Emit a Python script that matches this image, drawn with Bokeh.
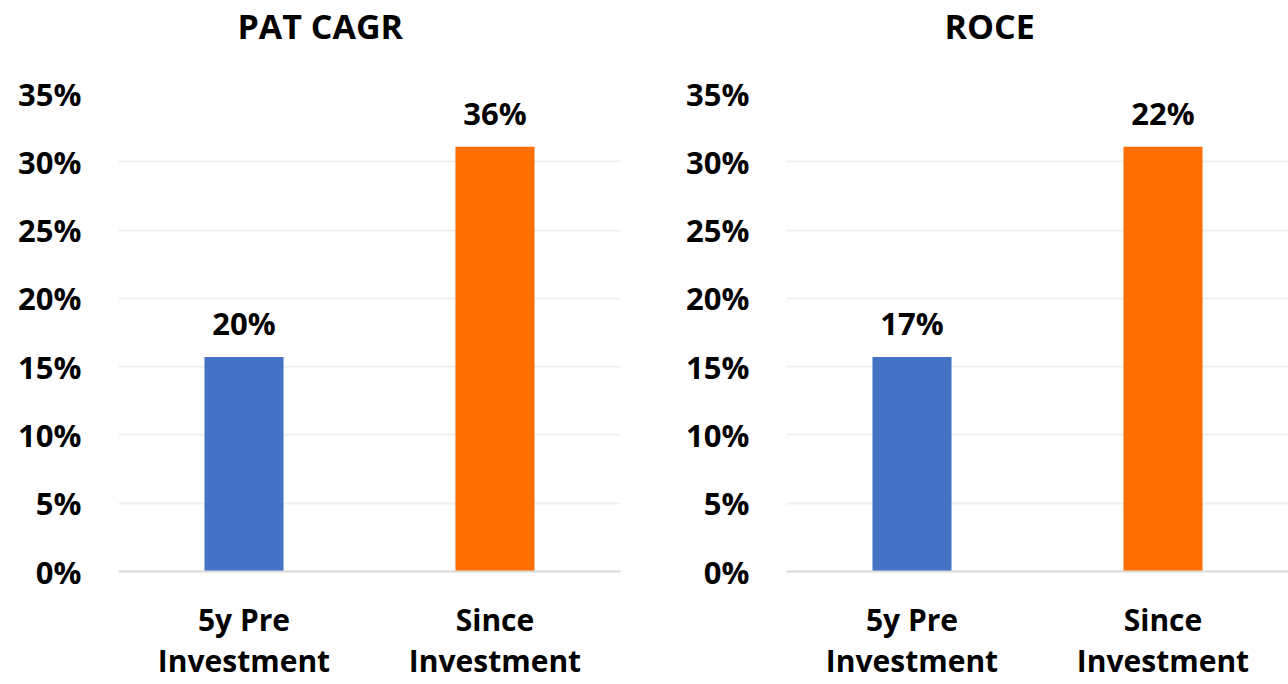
from bokeh.plotting import figure
from bokeh.layouts import row
from bokeh.models import ColumnDataSource, FixedTicker, Title
from bokeh.core.properties import value
from bokeh.embed import file_html
from bokeh.resources import INLINE

# ---- data ----
categories = ["5y Pre\nInvestment", "Since\nInvestment"]
bar_colors = ["#4472C4", "#FF7000"]

pat_title = "PAT CAGR"
pat_bar_values = [0.157, 0.311]
pat_labels = ["20%", "36%"]

roce_title = "ROCE"
roce_bar_values = [0.157, 0.311]
roce_labels = ["17%", "22%"]

y_ticks = [0.0, 0.05, 0.10, 0.15, 0.20, 0.25, 0.30, 0.35]
y_tick_labels = ["0%", "5%", "10%", "15%", "20%", "25%", "30%", "35%"]

FONT = "Open Sans"


def make_panel(title, vals, labels, width, border_left, border_right, title_offset):
    src = ColumnDataSource(dict(cat=categories, val=vals, lab=labels, color=bar_colors))
    p = figure(x_range=categories, y_range=(0, 0.35), width=width, height=684,
               output_backend="svg", toolbar_location=None,
               min_border_left=border_left, min_border_right=border_right,
               min_border_top=90, min_border_bottom=100)
    # invisible spacer next to the frame, real title stacked above it
    p.add_layout(Title(text=" ", standoff=0, text_font=FONT, text_font_size="32px"), "above")
    p.add_layout(Title(text=title, align="left", offset=title_offset, standoff=0,
                       text_font=FONT, text_font_size="34px", text_font_style="bold",
                       text_color="#000000"), "above")
    p.vbar(x="cat", top="val", width=0.315, color="color", source=src, line_width=0)
    p.text(x="cat", y="val", text="lab", source=src, text_align="center",
           text_baseline="alphabetic", y_offset=-34, text_font=value(FONT),
           text_font_size="31px", text_font_style="bold", text_color="#000000")

    p.yaxis.ticker = FixedTicker(ticks=y_ticks)
    p.yaxis.major_label_overrides = {t: l for t, l in zip(y_ticks, y_tick_labels)}
    p.yaxis.axis_line_color = None
    p.yaxis.major_tick_line_color = None
    p.yaxis.minor_tick_line_color = None
    p.yaxis.major_label_standoff = 31
    p.yaxis.major_label_text_font = FONT
    p.yaxis.major_label_text_font_size = "31px"
    p.yaxis.major_label_text_font_style = "bold"
    p.yaxis.major_label_text_color = "#000000"

    p.xaxis.axis_line_color = "#D9D9D9"
    p.xaxis.axis_line_width = 2
    p.xaxis.major_tick_line_color = None
    p.xaxis.minor_tick_line_color = None
    p.xaxis.major_label_standoff = 21
    p.xaxis.major_label_text_font = FONT
    p.xaxis.major_label_text_font_size = "30px"
    p.xaxis.major_label_text_line_height = 1.02
    p.xaxis.major_label_text_font_style = "bold"
    p.xaxis.major_label_text_color = "#000000"

    p.xgrid.grid_line_color = None
    p.ygrid.ticker = FixedTicker(ticks=y_ticks)
    p.ygrid.grid_line_color = "#F0F0F0"
    p.ygrid.grid_line_width = 2
    p.outline_line_color = None
    p.background_fill_color = "white"
    p.border_fill_color = "white"
    return p


left = make_panel(pat_title, pat_bar_values, pat_labels, 640, 118, 20, 119)
right = make_panel(roce_title, roce_bar_values, roce_labels, 648, 146, 0, 158)

layout = row(left, right)
open("out.html", "w").write(file_html(layout, INLINE))
